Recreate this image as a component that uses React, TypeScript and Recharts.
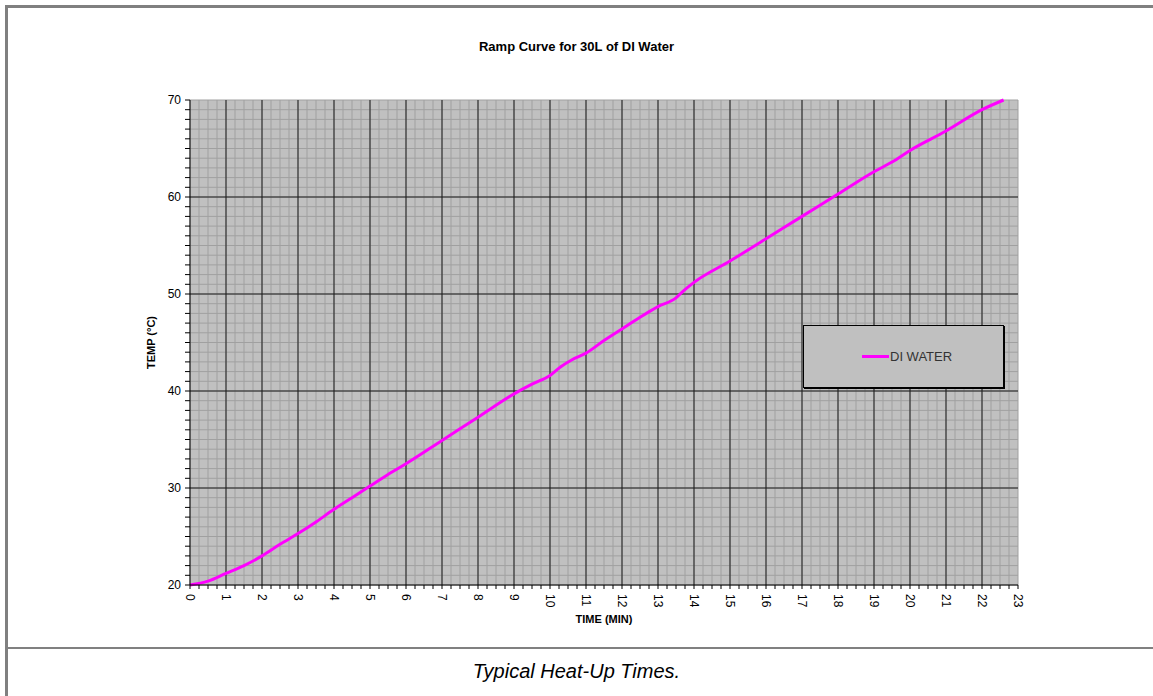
import React from "react"
import {
  CartesianGrid,
  Label,
  Legend,
  Line,
  LineChart,
  XAxis,
  YAxis,
} from "recharts"

// time in minutes, temperature in °C
const timeMin = [
  0, 0.5, 1, 1.5, 2, 2.5, 3, 3.5, 4, 4.5, 5, 5.5, 6, 7, 8, 9, 9.5, 10, 10.3,
  10.6, 11, 11.5, 12, 12.5, 13, 13.5, 13.7, 14, 15, 16, 17, 18, 19, 19.5, 20,
  21, 22, 22.6,
]
const tempC = [
  20.0, 20.4, 21.2, 22.0, 23.0, 24.2, 25.3, 26.5, 27.8, 29.0, 30.2, 31.4, 32.5,
  34.9, 37.3, 39.7, 40.7, 41.6, 42.5, 43.2, 43.9, 45.2, 46.4, 47.6, 48.7, 49.6,
  50.3, 51.2, 53.4, 55.7, 58.0, 60.3, 62.6, 63.6, 64.8, 66.8, 69.0, 70.0,
]

const xMajor = Array.from({ length: 24 }, (_, i) => i)
const xMinor = Array.from({ length: 93 }, (_, i) => i * 0.25)
const yMajor = [20, 30, 40, 50, 60, 70]
const yMinor = Array.from({ length: 51 }, (_, i) => 20 + i)

const data = timeMin.map((t, i) => ({ t, temp: tempC[i] }))

const FONT = "'Liberation Sans', Arial, sans-serif"

function XTick({ x, y, payload }: any) {
  const v = payload.value
  if (Math.abs(v - Math.round(v)) > 0.001) return null
  return (
    <g transform={`translate(${x},${y + 3}) rotate(90)`}>
      <text x={0} y={0} dy="0.35em" textAnchor="start" fontSize={12} fill="#000" fontFamily={FONT}>
        {Math.round(v)}
      </text>
    </g>
  )
}

function YTick({ x, y, payload }: any) {
  const v = payload.value
  if (v % 10 !== 0) return null
  return (
    <text x={x} y={y} dy="0.35em" textAnchor="end" fontSize={12} fill="#000" fontFamily={FONT}>
      {v}
    </text>
  )
}

function LegendBox() {
  return (
    <div
      style={{
        width: 201,
        height: 63,
        background: "#c0c0c0",
        border: "1px solid #000",
        boxShadow: "1px 1px 0 #000",
        display: "flex",
        alignItems: "center",
        paddingLeft: 58,
        boxSizing: "border-box",
        fontFamily: FONT,
        fontSize: 13,
        color: "#333",
      }}
    >
      <span style={{ display: "inline-block", width: 27, height: 3, background: "#ff00ff" }} />
      <span style={{ marginLeft: 1 }}>DI WATER</span>
    </div>
  )
}

export default function App() {
  return (
    <div
      style={{
        position: "absolute",
        left: 0,
        top: 0,
        width: 1153,
        height: 696,
        background: "#fff",
        overflow: "hidden",
        fontFamily: FONT,
      }}
    >
      <div
        style={{
          position: "absolute",
          left: 5,
          top: 5,
          width: 1153,
          height: 696,
          borderTop: "3px solid #808080",
          borderLeft: "3px solid #808080",
        }}
      />
      <div
        style={{
          position: "absolute",
          left: 5,
          top: 647,
          width: 1153,
          height: 0,
          borderTop: "2px solid #808080",
        }}
      />
      <div
        style={{
          position: "absolute",
          left: 0,
          top: 39,
          width: 1153,
          textAlign: "center",
          fontSize: 13,
          fontWeight: "bold",
          color: "#000",
        }}
      >
        Ramp Curve for 30L of DI Water
      </div>
      <div
        style={{
          position: "absolute",
          left: 0,
          top: 660,
          width: 1153,
          textAlign: "center",
          fontSize: 20,
          fontStyle: "italic",
          color: "#000",
        }}
      >
        Typical Heat-Up Times.
      </div>

      <div style={{ position: "absolute", left: 0, top: 0 }}>
        <LineChart
          width={1153}
          height={696}
          data={data}
          margin={{ top: 100, right: 135, bottom: 81, left: 150 }}
        >
          <CartesianGrid
            fill="#c0c0c0"
            fillOpacity={1}
            stroke="#a0a0a0"
            strokeWidth={1}
            horizontalValues={yMinor}
            verticalValues={xMinor}
          />
          <CartesianGrid
            stroke="#1a1a1a"
            strokeWidth={1}
            horizontalValues={yMajor.filter((v) => v > 20 && v < 70)}
            verticalValues={xMajor.filter((v) => v > 0 && v < 23)}
          />
          <XAxis
            dataKey="t"
            type="number"
            domain={[0, 23]}
            ticks={xMinor}
            interval={0}
            height={30}
            tickSize={4}
            axisLine={{ stroke: "#000" }}
            tickLine={{ stroke: "#000" }}
            tick={<XTick />}
            allowDecimals
          >
            <Label
              value="TIME (MIN)"
              position="insideBottom"
              offset={-8}
              style={{ fontSize: 11, fontWeight: "bold", fill: "#000", fontFamily: FONT }}
            />
          </XAxis>
          <YAxis
            type="number"
            domain={[20, 70]}
            ticks={yMinor}
            interval={0}
            width={40}
            tickSize={5}
            tickMargin={4}
            axisLine={{ stroke: "#000" }}
            tickLine={{ stroke: "#000" }}
            tick={<YTick />}
          >
            <Label
              value="TEMP (°C)"
              angle={-90}
              position="insideLeft"
              offset={1}
              style={{ fontSize: 11, fontWeight: "bold", fill: "#000", fontFamily: FONT, textAnchor: "middle" }}
            />
          </YAxis>
          <Legend
            layout="horizontal"
            align="center"
            verticalAlign="middle"
            content={<LegendBox />}
            wrapperStyle={{ left: 803, top: 325, width: 203, height: 65 }}
          />
          <Line
            type="monotone"
            dataKey="temp"
            name="DI WATER"
            stroke="#ff00ff"
            strokeWidth={3}
            dot={false}
            isAnimationActive={false}
          />
        </LineChart>
      </div>
    </div>
  )
}
